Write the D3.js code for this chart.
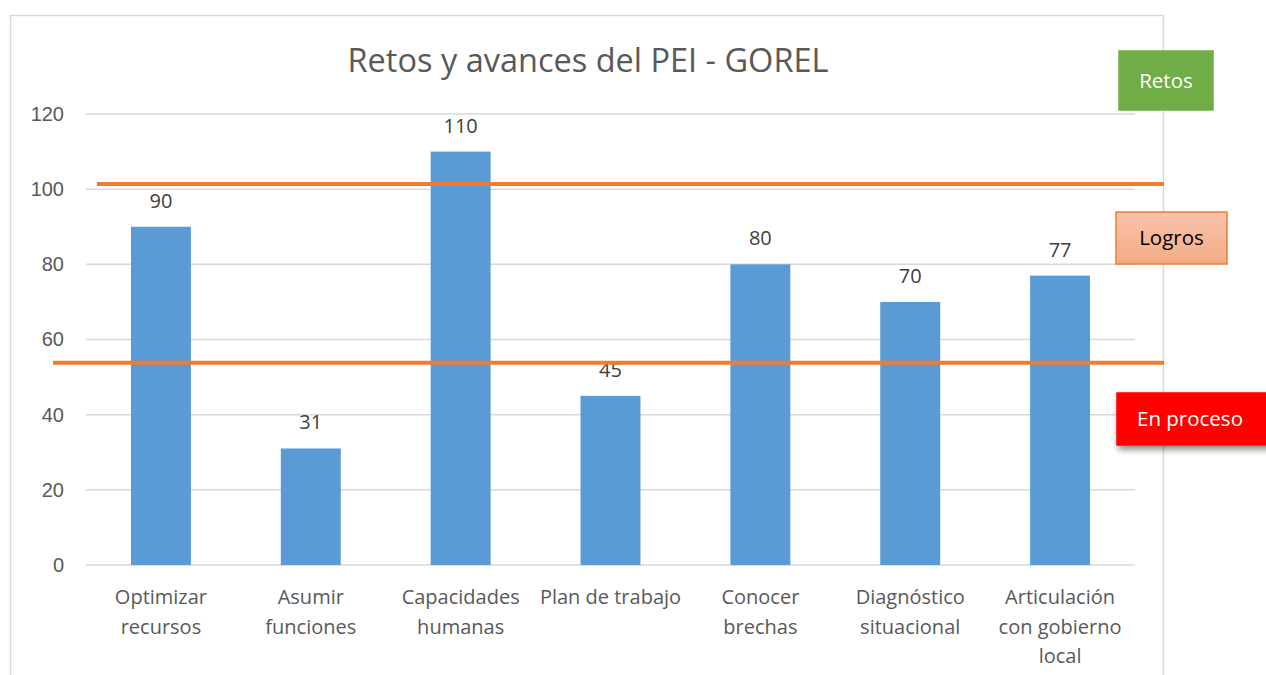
<!DOCTYPE html>
<html>
<head>
<meta charset="utf-8">
<script src="https://cdn.jsdelivr.net/npm/d3@7"></script>
<style>
  body { margin: 0; background: #fff; }
  svg { font-family: "Open Sans", "Liberation Sans", sans-serif; }
</style>
</head>
<body>
<div class="bar-chart"></div>
<script>
const categories = [
  ["Optimizar", "recursos"],
  ["Asumir", "funciones"],
  ["Capacidades", "humanas"],
  ["Plan de trabajo"],
  ["Conocer", "brechas"],
  ["Diagnóstico", "situacional"],
  ["Articulación", "con gobierno", "local"]
]
const values = [90, 31, 110, 45, 80, 70, 77]
const yTicks = [0, 20, 40, 60, 80, 100, 120]
// reference lines (in axis units) and the labels beside them
const thresholds = [101.4, 53.8]
const notes = ["Retos", "Logros", "En proceso"]

const W = 1266, H = 675
const margin = {top: 114, right: 131, bottom: 110, left: 86}
const width = W - margin.left - margin.right
const height = H - margin.top - margin.bottom

const svg = d3.select(".bar-chart").append("svg")
    .attr("width", W)
    .attr("height", H)

const defs = svg.append("defs")
const grad = defs.append("linearGradient").attr("id", "peach")
    .attr("x1", 0).attr("y1", 0).attr("x2", 0).attr("y2", 1)
grad.append("stop").attr("offset", "0%").attr("stop-color", "#f8c3ab")
grad.append("stop").attr("offset", "100%").attr("stop-color", "#f4ac86")
const shadow = defs.append("filter").attr("id", "shadow")
    .attr("x", "-20%").attr("y", "-20%").attr("width", "150%").attr("height", "160%")
shadow.append("feDropShadow").attr("dx", 2).attr("dy", 4).attr("stdDeviation", 3)
    .attr("flood-color", "#000").attr("flood-opacity", 0.45)

// chart frame
svg.append("rect")
    .attr("x", 10.5).attr("y", 15.5)
    .attr("width", 1153).attr("height", 700)
    .attr("fill", "none").attr("stroke", "#d9d9d9").attr("stroke-width", 1.5)

const g = svg.append("g")
    .attr("transform", `translate(${margin.left},${margin.top})`)

const xScale = d3.scaleBand()
    .domain(d3.range(categories.length))
    .range([0, width])
    .paddingInner(0.6)
    .paddingOuter(0.3)

const yScale = d3.scaleLinear()
    .domain([0, 120])
    .range([height, 0])

// gridlines
g.append("g")
    .selectAll("line")
    .data(yTicks)
    .join("line")
    .attr("x1", 0).attr("x2", width)
    .attr("y1", d => yScale(d)).attr("y2", d => yScale(d))
    .attr("stroke", "#d9d9d9").attr("stroke-width", 1.5)

const yAxis = d3.axisLeft(yScale).tickValues(yTicks).tickSize(0).tickPadding(22)
g.append("g")
    .call(yAxis)
    .call(a => a.select(".domain").remove())
    .call(a => a.selectAll("text")
        .attr("fill", "#595959").style("font-size", "20px"))

// bars
g.selectAll("rect.bar")
    .data(values)
    .join("rect")
    .attr("class", "bar")
    .attr("x", (d, i) => xScale(i))
    .attr("y", d => yScale(d))
    .attr("width", xScale.bandwidth())
    .attr("height", d => height - yScale(d))
    .attr("fill", "#5b9bd5")

// value labels
g.selectAll("text.val")
    .data(values)
    .join("text")
    .attr("class", "val")
    .attr("x", (d, i) => xScale(i) + xScale.bandwidth() / 2)
    .attr("y", d => yScale(d) - 19)
    .attr("text-anchor", "middle")
    .attr("fill", "#404040")
    .style("font-size", "20px")
    .text(d => d)

// category labels
const catG = g.selectAll("text.cat")
    .data(categories)
    .join("text")
    .attr("class", "cat")
    .attr("text-anchor", "middle")
    .attr("fill", "#595959")
    .style("font-size", "20px")
    .attr("transform", (d, i) => `translate(${xScale(i) + xScale.bandwidth() / 2},${height + 39})`)
catG.selectAll("tspan")
    .data(d => d)
    .join("tspan")
    .attr("x", 0)
    .attr("dy", (d, i) => i === 0 ? 0 : 29.5)
    .text(d => d)

// title
svg.append("text")
    .attr("x", 588).attr("y", 72)
    .attr("text-anchor", "middle")
    .attr("fill", "#595959")
    .style("font-size", "32.5px")
    .text("Retos y avances del PEI - GOREL")

// orange reference lines
const lineStarts = [97, 53]
svg.selectAll("line.ref")
    .data(thresholds)
    .join("line")
    .attr("class", "ref")
    .attr("x1", (d, i) => lineStarts[i])
    .attr("x2", 1164)
    .attr("y1", d => margin.top + yScale(d))
    .attr("y2", d => margin.top + yScale(d))
    .attr("stroke", "#ed7d31").attr("stroke-width", 4)

// note boxes
const boxes = [
  {x: 1119, y: 51, w: 94, h: 59, fill: "#70ad47", stroke: "#70ad47", color: "#fff", filter: null},
  {x: 1116, y: 212, w: 111, h: 52, fill: "url(#peach)", stroke: "#ed7d31", color: "#000", filter: null},
  {x: 1117, y: 393, w: 155, h: 52, fill: "#ff0000", stroke: "#ff0000", color: "#fff", filter: "url(#shadow)"}
]
const nb = svg.selectAll("g.note")
    .data(boxes)
    .join("g")
    .attr("class", "note")
nb.append("rect")
    .attr("x", d => d.x).attr("y", d => d.y)
    .attr("width", d => d.w).attr("height", d => d.h)
    .attr("fill", d => d.fill).attr("stroke", d => d.stroke)
    .attr("stroke-width", 1.5)
    .attr("filter", d => d.filter)
nb.append("text")
    .attr("x", (d, i) => i === 2 ? 1190 : d.x + d.w / 2)
    .attr("y", d => d.y + d.h / 2 + 7)
    .attr("text-anchor", "middle")
    .attr("fill", d => d.color)
    .style("font-size", "20.5px")
    .text((d, i) => notes[i])
</script>
</body>
</html>
